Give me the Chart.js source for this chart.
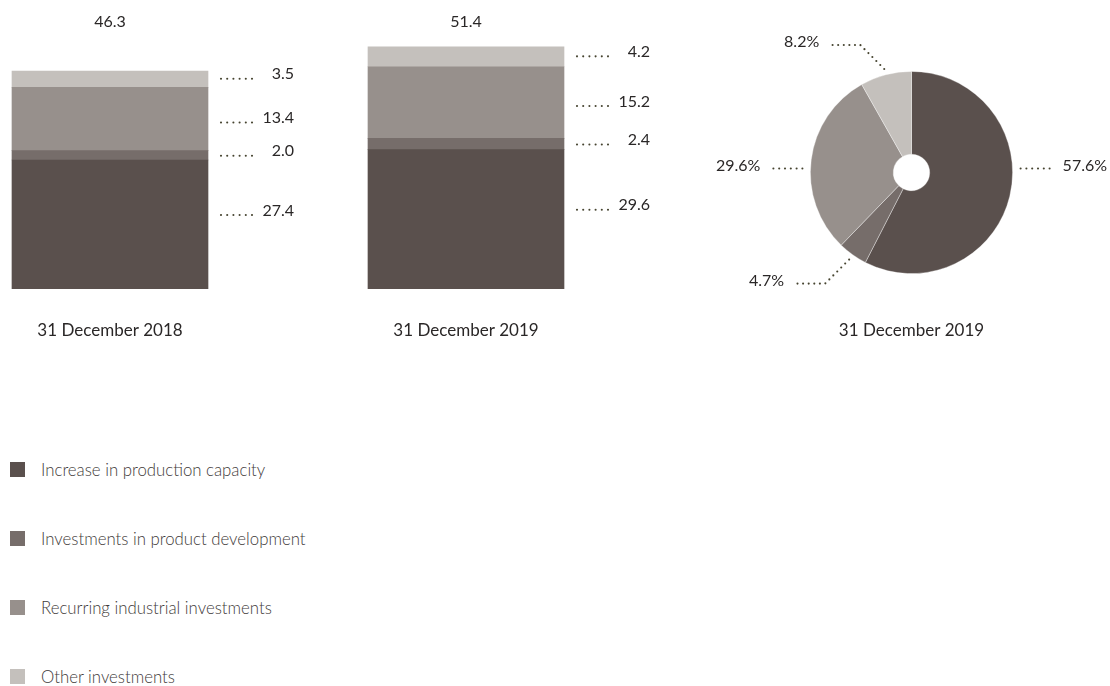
<!DOCTYPE html>
<html>
<head>
<meta charset="utf-8">
<script src="https://cdn.jsdelivr.net/npm/chart.js@4.4.0/dist/chart.umd.min.js"></script>
<style>
html,body{margin:0;padding:0;background:#fff;width:1110px;height:686px;overflow:hidden;}
body{position:relative;font-family:Lato,"Open Sans",sans-serif;}
#barWrap{position:absolute;left:-68px;top:0;width:780px;height:360px;}
#pieWrap{position:absolute;left:700px;top:0;width:410px;height:360px;}
.li{position:absolute;left:10px;height:17px;display:flex;align-items:center;white-space:nowrap;}
.sw{width:15px;height:15px;margin-right:16px;flex:none;}
.lt{font-size:16.8px;font-weight:300;color:#3f3b3a;line-height:17px;}
</style>
</head>
<body>
<div id="barWrap"><canvas id="bar" width="780" height="360"></canvas></div>
<div id="pieWrap"><canvas id="pie" width="410" height="360"></canvas></div>
<div id="legend"></div>
<script>
// ---- data ----
const categories = ["31 December 2018", "31 December 2019"];
const seriesNames = ["Increase in production capacity", "Investments in product development", "Recurring industrial investments", "Other investments"];
const capacity = [27.4, 29.6];
const productDev = [2.0, 2.4];
const recurring = [13.4, 15.2];
const other = [3.5, 4.2];
const totals = [46.3, 51.4];
const pieTitle = "31 December 2019";
const pieShares = [57.6, 4.7, 29.6, 8.2];

// ---- style ----
const colors = ["#5a504d", "#766d6a", "#97908c", "#c4c0bc"];
const dotColor = "#45432f";
const textColor = "#2a2727";
const numFont = "16px Lato, 'Open Sans', sans-serif";
const catFont = "17px Lato, 'Open Sans', sans-serif";
const labelOffsets = [-14, -4, -1, -5];

function dotLine(ctx, pts, step) {
  ctx.save();
  ctx.fillStyle = dotColor;
  let carry = 0;
  for (let k = 0; k < pts.length - 1; k++) {
    const [x0, y0] = pts[k], [x1, y1] = pts[k + 1];
    const len = Math.hypot(x1 - x0, y1 - y0);
    let d = carry;
    while (d <= len + 0.01) {
      const t = len ? d / len : 0;
      ctx.beginPath();
      ctx.arc(x0 + (x1 - x0) * t, y0 + (y1 - y0) * t, 1.05, 0, Math.PI * 2);
      ctx.fill();
      d += step;
    }
    carry = d - len;
  }
  ctx.restore();
}

const seriesData = [capacity, productDev, recurring, other];

const barLabels = {
  id: 'barLabels',
  afterDatasetsDraw(chart) {
    const ctx = chart.ctx;
    const xs = chart.scales.x;
    ctx.save();
    ctx.font = numFont;
    ctx.fillStyle = textColor;
    ctx.textBaseline = 'middle';
    chart.data.datasets.forEach((ds, i) => {
      const meta = chart.getDatasetMeta(i);
      meta.data.forEach((bar, j) => {
        const p = bar.getProps(['x', 'y', 'base', 'width'], true);
        const right = p.x + p.width / 2;
        const my = (p.y + p.base) / 2 + labelOffsets[i];
        dotLine(ctx, [[right + 13, my + 4.5], [right + 44, my + 4.5]], 6.2);
        ctx.textAlign = 'right';
        ctx.fillStyle = textColor;
        ctx.fillText(ds.data[j].toFixed(1), right + 86, my);
      });
    });
    ctx.textAlign = 'center';
    categories.forEach((c, j) => {
      const x = xs.getPixelForValue(j);
      ctx.font = numFont;
      ctx.fillText(totals[j].toFixed(1), x, 22);
      ctx.font = catFont;
      ctx.fillText(c, x, 331);
    });
    ctx.restore();
  }
};

new Chart(document.getElementById('bar'), {
  type: 'bar',
  data: {
    labels: categories,
    datasets: seriesNames.map((n, i) => ({
      label: n,
      data: seriesData[i],
      backgroundColor: colors[i],
      borderWidth: 0,
      barThickness: 196
    }))
  },
  options: {
    responsive: false,
    animation: false,
    layout: { padding: { left: 0, right: 68, top: 30, bottom: 71 } },
    plugins: { legend: { display: false }, tooltip: { enabled: false } },
    scales: {
      x: { stacked: true, display: false },
      y: { stacked: true, display: false, min: 0, max: 55 }
    }
  },
  plugins: [barLabels]
});

const pieLabels = {
  id: 'pieLabels',
  afterDatasetsDraw(chart) {
    const ctx = chart.ctx;
    const meta = chart.getDatasetMeta(0);
    ctx.save();
    ctx.font = numFont;
    ctx.fillStyle = textColor;
    ctx.textBaseline = 'middle';
    meta.data.forEach((arc, i) => {
      const p = arc.getProps(['x', 'y', 'startAngle', 'endAngle', 'outerRadius'], true);
      const mid = (p.startAngle + p.endAngle) / 2;
      const c = Math.cos(mid), s = Math.sin(mid);
      const r = p.outerRadius;
      const txt = pieShares[i].toFixed(1) + '%';
      if (pieShares[i] > 15) {
        const side = c >= 0 ? 1 : -1;
        const ly = p.y - 7;
        dotLine(ctx, [[p.x + side * (r + 8), ly + 3], [p.x + side * (r + 38), ly + 3]], 5.8);
        ctx.textAlign = side > 0 ? 'left' : 'right';
        ctx.fillText(txt, p.x + side * (r + 50), ly);
      } else {
        const ax = p.x + c * (r + 6), ay = p.y + s * (r + 6);
        const vs = s >= 0 ? 1 : -1;
        const ex = ax - 24, ey = ay + vs * 24;
        const hx = ex - 32;
        dotLine(ctx, [[ax, ay], [ex, ey], [hx, ey]], 5.6);
        ctx.textAlign = 'right';
        ctx.fillText(txt, hx - 9, ey - 3);
      }
    });
    ctx.textAlign = 'center';
    ctx.font = catFont;
    ctx.fillText(pieTitle, meta.data[0].x, 331);
    ctx.restore();
  }
};

new Chart(document.getElementById('pie'), {
  type: 'doughnut',
  data: {
    labels: seriesNames,
    datasets: [{
      data: pieShares,
      backgroundColor: colors,
      borderWidth: 0.8,
      borderColor: 'rgba(255,255,255,0.45)'
    }]
  },
  options: {
    responsive: false,
    animation: false,
    cutout: '18%',
    layout: { padding: { left: 110, top: 71, right: 97, bottom: 86 } },
    plugins: { legend: { display: false }, tooltip: { enabled: false } }
  },
  plugins: [pieLabels]
});

// ---- HTML legend ----
const lg = document.getElementById('legend');
seriesNames.forEach((n, i) => {
  const d = document.createElement('div');
  d.className = 'li';
  d.style.top = (461 + 69 * i) + 'px';
  d.innerHTML = '<span class="sw" style="background:' + colors[i] + '"></span><span class="lt"></span>';
  d.querySelector('.lt').textContent = n;
  lg.appendChild(d);
});
</script>
</body>
</html>
